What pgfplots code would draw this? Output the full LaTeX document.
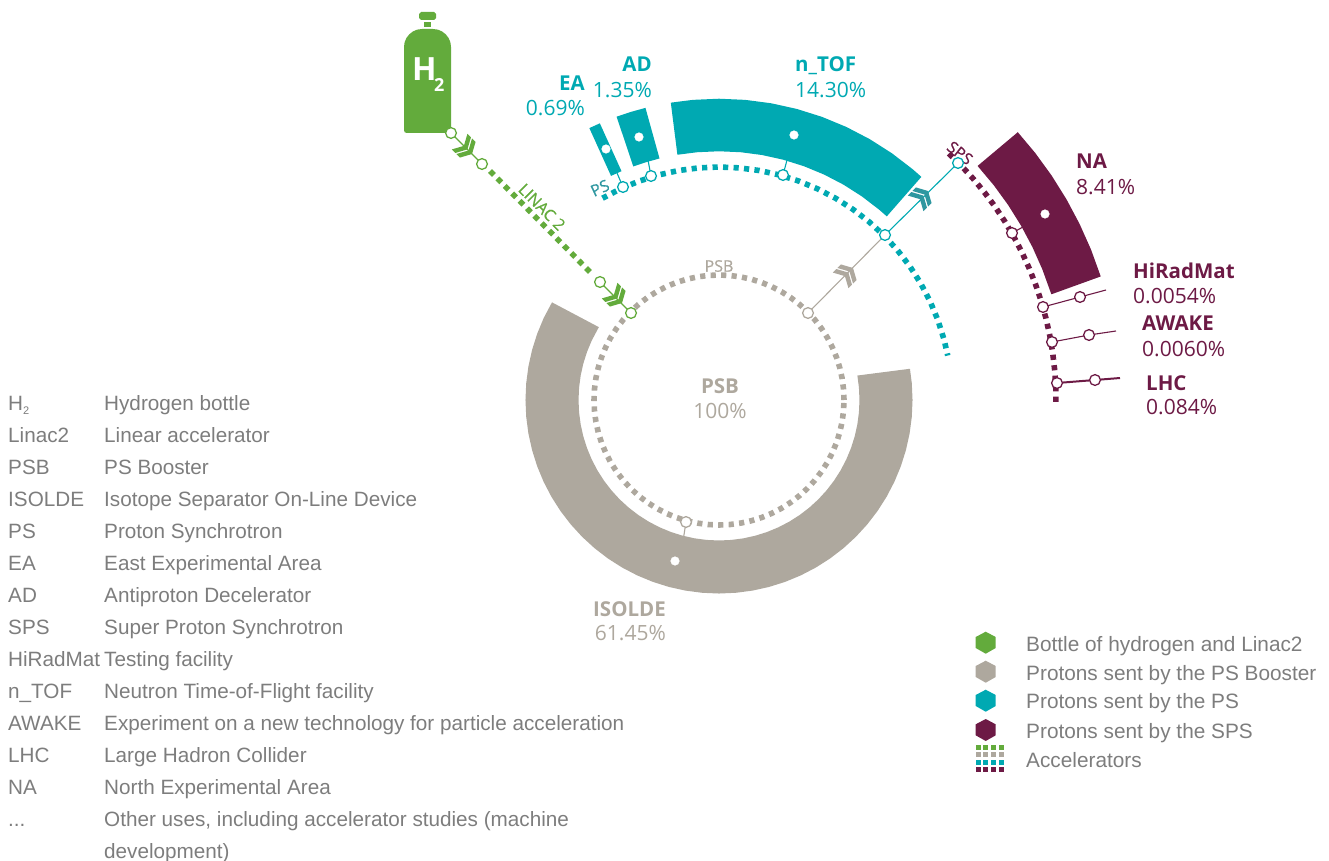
\documentclass[border=0pt]{standalone}
\usepackage{pgfplots}
\pgfplotsset{compat=1.18}
\usepackage{fontspec}
\setmainfont{Open Sans}
\newfontfamily\hel{Liberation Sans}
\newfontfamily\semi[FakeBold=0.7]{Open Sans}
\definecolor{cgreen}{HTML}{63AB3C}
\definecolor{cgray}{HTML}{AEA89E}
\definecolor{cteal}{HTML}{00A9B2}
\definecolor{cdteal}{HTML}{2E97A0}
\definecolor{cmar}{HTML}{6D1A45}
\definecolor{ctext}{HTML}{7D7D7D}
% arc through typed angles around the common centre of the rings
\newcommand\arcp[3]{\addplot[#2] table[row sep=\\,x expr={719+#1*cos(\thisrow{a})},y expr={400-#1*sin(\thisrow{a})}]{a\\ #3};}
% double chevron: typed outline, placed at a point and turned
\newcommand\chev[4]{\addplot[fill=#4,draw=none] table[row sep=\\,x expr={#1+\thisrow{u}*cos(#3)-\thisrow{v}*sin(#3)},y expr={#2-\thisrow{u}*sin(#3)-\thisrow{v}*cos(#3)}]{u v\\ 2 0\\ -4 11\\ -9 11\\ -3 0\\ -9 -11\\ -4 -11\\}--cycle;
\addplot[fill=#4,draw=none] table[row sep=\\,x expr={#1+\thisrow{u}*cos(#3)-\thisrow{v}*sin(#3)},y expr={#2-\thisrow{u}*sin(#3)-\thisrow{v}*cos(#3)}]{u v\\ 8.5 0\\ 2.5 11\\ -2.5 11\\ 3.5 0\\ -2.5 -11\\ 2.5 -11\\}--cycle;}
\newcommand\T[4][base west]{\node[anchor=#1,inner sep=0pt,#3] at (axis cs:#2) {#4};}
\newcommand\K[3]{\node[anchor=base west,inner sep=0pt,text=ctext,font=\hel\fontsize{20.7}{24}\selectfont] at (axis cs:8,#1) {#2};\node[anchor=base west,inner sep=0pt,text=ctext,font=\hel\fontsize{20.7}{24}\selectfont] at (axis cs:104,#1) {#3};}
\begin{document}
\begin{tikzpicture}
\begin{axis}[scale only axis,width=1329pt,height=861pt,xmin=0,xmax=1329,ymin=0,ymax=861,y dir=reverse,axis lines=none,clip=false]
% sectors
\arcp{167}{cgray,line width=53pt,line join=miter}{9.6\\ 5\\ 0\\ -5\\ -10\\ -15\\ -20\\ -25\\ -30\\ -35\\ -40\\ -45\\ -50\\ -55\\ -60\\ -65\\ -70\\ -75\\ -80\\ -85\\ -90\\ -95\\ -100\\ -105\\ -110\\ -115\\ -120\\ -125\\ -130\\ -135\\ -140\\ -145\\ -150\\ -155\\ -160\\ -165\\ -170\\ -175\\ -180\\ -185\\ -190\\ -195\\ -200\\ -205\\ -210.7\\}
\arcp{275}{cteal,line width=52.5pt}{99.4\\ 95\\ 90\\ 85\\ 80\\ 75\\ 70\\ 65\\ 60\\ 55\\ 50\\ 47.7\\}
\arcp{275}{cteal,line width=52.5pt}{110\\ 107\\ 104\\}
\arcp{275}{cteal,line width=52.5pt}{115.6\\ 113.2\\}
\arcp{375}{cmar,line width=52.5pt}{42\\ 38\\ 34\\ 30\\ 26\\ 22\\ 17.8\\}
% dotted rings
\arcp{125}{cgray,line width=5.6pt,dash pattern=on 5.2pt off 5.3pt}{0\\ 5\\ 10\\ 15\\ 20\\ 25\\ 30\\ 35\\ 40\\ 45\\ 50\\ 55\\ 60\\ 65\\ 70\\ 75\\ 80\\ 85\\ 90\\ 95\\ 100\\ 105\\ 110\\ 115\\ 120\\ 125\\ 130\\ 135\\ 140\\ 145\\ 150\\ 155\\ 160\\ 165\\ 170\\ 175\\ 180\\ 185\\ 190\\ 195\\ 200\\ 205\\ 210\\ 215\\ 220\\ 225\\ 230\\ 235\\ 240\\ 245\\ 250\\ 255\\ 260\\ 265\\ 270\\ 275\\ 280\\ 285\\ 290\\ 295\\ 300\\ 305\\ 310\\ 315\\ 320\\ 325\\ 330\\ 335\\ 340\\ 345\\ 350\\ 355\\ 360\\}
\arcp{233}{cteal,line width=5.6pt,dash pattern=on 5.2pt off 5.3pt}{120\\ 115\\ 110\\ 105\\ 100\\ 95\\ 90\\ 85\\ 80\\ 75\\ 70\\ 65\\ 60\\ 55\\ 50\\ 45\\ 40\\ 35\\ 30\\ 25\\ 20\\ 15\\ 11\\}
\arcp{337}{cmar,line width=5.6pt,dash pattern=on 5.2pt off 5.3pt}{47\\ 44\\ 41\\ 38\\ 35\\ 32\\ 29\\ 26\\ 23\\ 20\\ 17\\ 14\\ 11\\ 8\\ 5\\ 2\\ -1\\}
\addplot[cgreen,line width=5.5pt,dash pattern=on 5.5pt off 5pt] coordinates {(490,171) (592,274)};
% connectors
\addplot[cgreen,line width=1.1pt] coordinates {(451,133) (482,164)};
\addplot[cgreen,line width=1.1pt] coordinates {(600,282) (631,313)};
\addplot[cgray,line width=1.1pt] coordinates {(808,313) (885,235)};
\addplot[cteal,line width=1.1pt] coordinates {(885,235) (958,163)};
\addplot[cteal,line width=1.1pt] coordinates {(617,173) (623,187)};
\addplot[cteal,line width=1.1pt] coordinates {(648,160) (651,176)};
\addplot[cteal,line width=1.1pt] coordinates {(787,160) (783,175)};
\addplot[cgray,line width=1.1pt] coordinates {(683,541) (686,522)};
\addplot[cmar,line width=1.1pt] coordinates {(1023,227) (1012,233)};
\addplot[cmar,line width=1.1pt] coordinates {(1043,307) (1080,297) (1106,290)};
\addplot[cmar,line width=1.1pt] coordinates {(1052,342) (1089,335) (1116,331)};
\addplot[cmar,line width=2pt] coordinates {(1057,383) (1095,380) (1120,378)};
% chevrons
\chev{466}{148}{-45}{cgreen}
\chev{616}{297}{-45}{cgreen}
\chev{847}{274}{45}{cgray}
\chev{922}{197}{45}{cdteal}
% node circles
\addplot[only marks,mark=*,mark size=5.4,mark options={fill=white,draw=cgreen,line width=1.3pt}] coordinates {(451,133) (482,164) (600,282) (631,313)};
\addplot[only marks,mark=*,mark size=5.4,mark options={fill=white,draw=cgray,line width=1.3pt}] coordinates {(808,313) (686,522)};
\addplot[only marks,mark=*,mark size=5.4,mark options={fill=white,draw=cteal,line width=1.3pt}] coordinates {(885,235) (958,163) (623,187) (651,176) (783,175)};
\addplot[only marks,mark=*,mark size=5.4,mark options={fill=white,draw=cmar,line width=1.3pt}] coordinates {(1012,233) (1043,307) (1080,297) (1052,342) (1089,335) (1057,383) (1095,380)};
\addplot[only marks,mark=*,mark size=4.3,mark options={fill=white,draw=white,line width=0.4pt}] coordinates {(794,135) (639,137) (606,149) (1045,214) (675,561)};
% bottle
\addplot[fill=cgreen,draw=none] coordinates {(451,47) (450.4,42.3) (448.6,38) (445.7,34.3) (442,31.4) (437.7,29.6) (433,29) (422,29) (417.3,29.6) (413,31.4) (409.3,34.3) (406.4,38) (404.6,42.3) (404,47) (404,130) (404.7,132.3) (407,133) (448,133) (451,130)}--cycle;
\addplot[fill=cgreen,draw=none] coordinates {(424,22) (431,22) (431,27) (424,27)}--cycle;
\addplot[fill=cgreen,draw=none] coordinates {(421,12) (434,12) (436,14) (436,18) (434,20) (421,20) (419,18) (419,14)}--cycle;
% legend hexagons and dots
\addplot[fill=cgreen,draw=none] coordinates {(985.7,631.7) (995.7,637) (995.7,648) (985.7,653.7) (975.7,648) (975.7,637)}--cycle;
\addplot[fill=cgray,draw=none] coordinates {(985.7,660.7) (995.7,666) (995.7,677) (985.7,682.7) (975.7,677) (975.7,666)}--cycle;
\addplot[fill=cteal,draw=none] coordinates {(985.7,689.7) (995.7,695) (995.7,706) (985.7,711.7) (975.7,706) (975.7,695)}--cycle;
\addplot[fill=cmar,draw=none] coordinates {(985.7,719) (995.7,724.3) (995.7,735.3) (985.7,741) (975.7,735.3) (975.7,724.3)}--cycle;
\addplot[only marks,mark=square*,mark size=2,mark options={fill=cgreen,draw=cgreen,line width=0pt}] coordinates {(978,747) (985.5,747) (993.5,747) (1001.5,747)};
\addplot[only marks,mark=square*,mark size=2,mark options={fill=cgray,draw=cgray,line width=0pt}] coordinates {(978,754.5) (985.5,754.5) (993.5,754.5) (1001.5,754.5)};
\addplot[only marks,mark=square*,mark size=2,mark options={fill=cteal,draw=cteal,line width=0pt}] coordinates {(978,762) (985.5,762) (993.5,762) (1001.5,762)};
\addplot[only marks,mark=square*,mark size=2,mark options={fill=cmar,draw=cmar,line width=0pt}] coordinates {(978,769) (985.5,769) (993.5,769) (1001.5,769)};
% bottle text
\T{412,81}{text=white,font=\fontsize{32}{36}\selectfont\bfseries}{H}
\T{434,92}{text=white,font=\fontsize{18}{20}\selectfont\bfseries}{2}
% labels
\newcommand\lab{\fontsize{21}{24}\selectfont}
\newcommand\labb{\fontsize{20.5}{24}\selectfont\bfseries}
\T[base east]{585,91}{text=cteal,font=\labb}{EA}
\T[base east]{585,116}{text=cteal,font=\lab}{0.69\%}
\T[base east]{652,72}{text=cteal,font=\labb}{AD}
\T[base east]{652,98}{text=cteal,font=\lab}{1.35\%}
\T{795,72}{text=cteal,font=\labb}{n\_TOF}
\T{795,98}{text=cteal,font=\lab}{14.30\%}
\T{1076,168}{text=cmar,font=\labb}{NA}
\T{1076,194}{text=cmar,font=\lab}{8.41\%}
\T{1133,278}{text=cmar,font=\labb}{HiRadMat}
\T{1133,303}{text=cmar,font=\lab}{0.0054\%}
\T{1142,330}{text=cmar,font=\labb}{AWAKE}
\T{1142,356}{text=cmar,font=\lab}{0.0060\%}
\T{1146,390}{text=cmar,font=\labb}{LHC}
\T{1146,414}{text=cmar,font=\lab}{0.084\%}
\T[base east]{666,616}{text=cgray,font=\labb}{ISOLDE}
\T[base east]{666,640}{text=cgray,font=\lab}{61.45\%}
\T[base]{720,393}{text=cgray,font=\labb}{PSB}
\T[base]{720,418}{text=cgray,font=\lab}{100\%}
% ring names
\newcommand\sml{\semi\fontsize{16}{18}\selectfont}
\T[center]{719,266}{text=cgray,font=\sml}{PSB}
\T[center]{600,188}{text=cdteal,font=\sml,rotate=25}{PS}
\T[center]{960,153}{text=cmar,font=\sml,rotate=-38}{SPS}
\T[center]{542,207}{text=cgreen,font=\sml,rotate=-45}{LINAC 2}
% right legend
\newcommand\leg{\hel\fontsize{20.8}{24}\selectfont}
\T{1026,651}{text=ctext,font=\leg}{Bottle of hydrogen and Linac2}
\T{1026,680}{text=ctext,font=\leg}{Protons sent by the PS Booster}
\T{1026,708}{text=ctext,font=\leg}{Protons sent by the PS}
\T{1026,738}{text=ctext,font=\leg}{Protons sent by the SPS}
\T{1026,767}{text=ctext,font=\leg}{Accelerators}
% left key
\node[anchor=base west,inner sep=0pt,text=ctext,font=\hel\fontsize{20.7}{24}\selectfont] at (axis cs:8,410) {H\raisebox{-4pt}{\fontsize{11}{12}\selectfont 2}};
\node[anchor=base west,inner sep=0pt,text=ctext,font=\hel\fontsize{20.7}{24}\selectfont] at (axis cs:104,410) {Hydrogen bottle};
\K{442}{Linac2}{Linear accelerator}
\K{474}{PSB}{PS Booster}
\K{506}{ISOLDE}{Isotope Separator On-Line Device}
\K{538}{PS}{Proton Synchrotron}
\K{570}{EA}{East Experimental Area}
\K{602}{AD}{Antiproton Decelerator}
\K{634}{SPS}{Super Proton Synchrotron}
\K{666}{HiRadMat}{Testing facility}
\K{698}{n\_TOF}{Neutron Time-of-Flight facility}
\K{730}{AWAKE}{Experiment on a new technology for particle acceleration}
\K{762}{LHC}{Large Hadron Collider}
\K{794}{NA}{North Experimental Area}
\K{826}{...}{Other uses, including accelerator studies (machine}
\K{858}{}{development)}
\end{axis}
\pgfresetboundingbox
\path[use as bounding box] (0,0) rectangle (1329pt,861pt);
\end{tikzpicture}
\end{document}
